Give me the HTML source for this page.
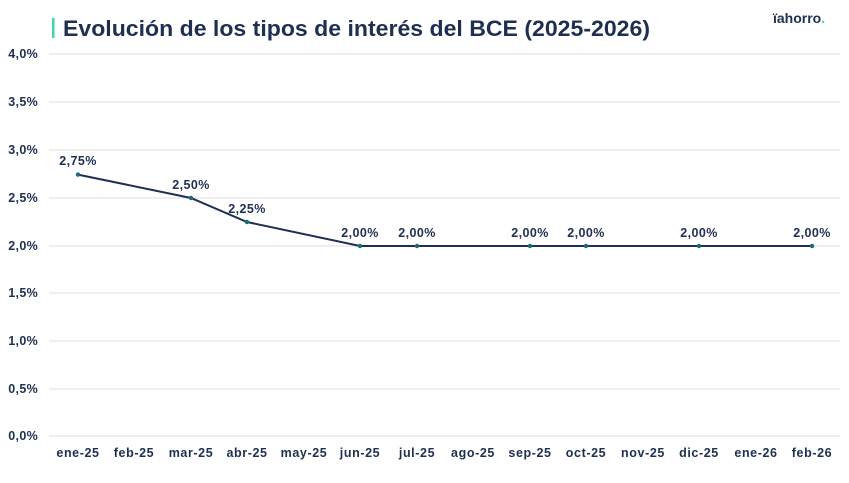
<!DOCTYPE html>
<html><head><meta charset="utf-8"><style>
body{margin:0;background:#fff;width:849px;height:483px;overflow:hidden}
svg{display:block}
text{font-family:"Liberation Sans",sans-serif;font-weight:bold;fill:#1e2f52}
</style></head><body>
<svg width="849" height="483" viewBox="0 0 849 483">
<rect x="52" y="18" width="2.5" height="20" fill="#3ad6b0"/>
<text x="63" y="36" font-size="22" textLength="587" lengthAdjust="spacingAndGlyphs">Evolución de los tipos de interés del BCE (2025-2026)</text>
<text x="773" y="23" font-size="14" fill="#1e2f52">ïahorro<tspan fill="#3ad6b0">.</tspan></text>
<g stroke="#dcdcdc" stroke-width="1">
<line x1="49" x2="840" y1="54" y2="54"/><line x1="49" x2="840" y1="102" y2="102"/>
<line x1="49" x2="840" y1="150" y2="150"/><line x1="49" x2="840" y1="198" y2="198"/>
<line x1="49" x2="840" y1="246" y2="246"/><line x1="49" x2="840" y1="293" y2="293"/>
<line x1="49" x2="840" y1="341" y2="341"/><line x1="49" x2="840" y1="389" y2="389"/>
<line x1="49" x2="840" y1="436" y2="436"/>
</g>
<g font-size="12.5" text-anchor="end" letter-spacing="0.3">
<text x="38" y="58">4,0%</text><text x="38" y="106">3,5%</text><text x="38" y="154">3,0%</text>
<text x="38" y="202">2,5%</text><text x="38" y="250">2,0%</text><text x="38" y="297">1,5%</text>
<text x="38" y="345">1,0%</text><text x="38" y="393">0,5%</text><text x="38" y="440">0,0%</text>
</g>
<g font-size="12.5" text-anchor="middle" letter-spacing="0.6">
<text x="78" y="457">ene-25</text><text x="134" y="457">feb-25</text><text x="191" y="457">mar-25</text>
<text x="247" y="457">abr-25</text><text x="304" y="457">may-25</text><text x="360" y="457">jun-25</text>
<text x="417" y="457">jul-25</text><text x="473" y="457">ago-25</text><text x="530" y="457">sep-25</text>
<text x="586" y="457">oct-25</text><text x="643" y="457">nov-25</text><text x="699" y="457">dic-25</text>
<text x="756" y="457">ene-26</text><text x="812" y="457">feb-26</text>
</g>
<polyline fill="none" stroke="#1e2f52" stroke-width="2" points="78,174.6 191,198 247,222 360,246 417,246 530,246 586,246 699,246 812,246"/>
<g fill="#1a6b73">
<circle cx="78" cy="174.6" r="2.2"/><circle cx="191" cy="198" r="2.2"/><circle cx="247" cy="222" r="2.2"/>
<circle cx="360" cy="246" r="2.2"/><circle cx="417" cy="246" r="2.2"/><circle cx="530" cy="246" r="2.2"/>
<circle cx="586" cy="246" r="2.2"/><circle cx="699" cy="246" r="2.2"/><circle cx="812" cy="246" r="2.2"/>
</g>
<g font-size="12.5" text-anchor="middle" letter-spacing="0.4">
<text x="78" y="165">2,75%</text><text x="191" y="189">2,50%</text><text x="247" y="213">2,25%</text>
<text x="360" y="237">2,00%</text><text x="417" y="237">2,00%</text><text x="530" y="237">2,00%</text>
<text x="586" y="237">2,00%</text><text x="699" y="237">2,00%</text><text x="812" y="237">2,00%</text>
</g>
</svg>
</body></html>
